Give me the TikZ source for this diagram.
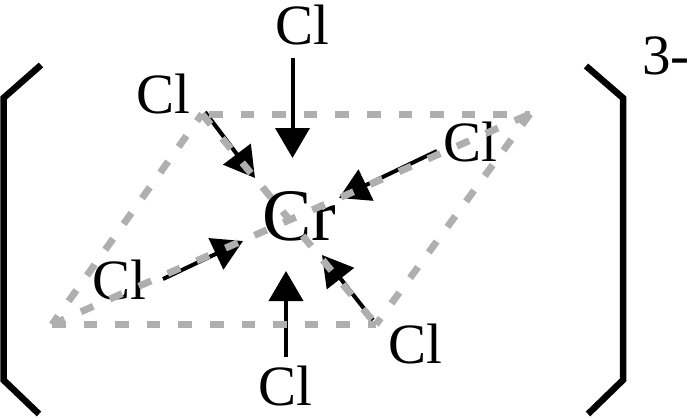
\documentclass[tikz,border=0pt]{standalone}
\usepackage{fontspec}
\setmainfont{Liberation Serif}
\usetikzlibrary{arrows.meta}
\definecolor{dashgray}{RGB}{175,175,175}
\tikzset{
  atom/.style={inner sep=0pt, font=\fontsize{74}{74}\selectfont},
  ligand/.style={inner sep=0pt, font=\fontsize{57}{57}\selectfont},
  bond/.style={black, line width=4pt, -{Triangle[length=30pt,width=34pt]}},
  plane/.style={dashgray, line width=7pt, dash pattern=on 13.5pt off 18.1pt},
  bracket/.style={black, line width=6.5pt}
}
\begin{document}
\begin{tikzpicture}[x=1pt,y=-1pt]
  \useasboundingbox (0,0) rectangle (693,418);
  % atoms
  \node [atom] (cr) at (299.5,216) {Cr};
  \node [ligand] (cltop) at (302.5,25) {Cl};
  \node [ligand] (clul) at (163.5,94) {Cl};
  \node [ligand] (clur) at (470,142) {Cl};
  \node [ligand] (clll) at (119.5,280) {Cl};
  \node [ligand] (cllr) at (415,344) {Cl};
  \node [ligand] (clbot) at (285.5,386) {Cl};
  % bond ends
  \coordinate (btop) at (292.5,58);
  \coordinate (ttop) at (292.5,158);
  \coordinate (bul) at (205,112);
  \coordinate (tul) at (255,178);
  \coordinate (bur) at (437,151);
  \coordinate (tur) at (339,198);
  \coordinate (bll) at (163,279);
  \coordinate (tll) at (243,241);
  \coordinate (blr) at (373,320);
  \coordinate (tlr) at (322,255);
  \coordinate (bbot) at (286,357);
  \coordinate (tbot) at (286,271);
  % bonds
  \draw [bond] (btop) -- (ttop);
  \draw [bond] (bul) -- (tul);
  \draw [bond] (bur) -- (tur);
  \draw [bond] (bll) -- (tll);
  \draw [bond] (blr) -- (tlr);
  \draw [bond] (bbot) -- (tbot);
  % plane
  \coordinate (pa) at (202,114);
  \coordinate (pb) at (530,114);
  \coordinate (pc) at (376,324.5);
  \coordinate (pd) at (52,324.5);
  \draw [plane, dash phase=24.6pt] (pa) -- (pb);
  \draw [plane] (pb) -- (pc);
  \draw [plane] (pd) -- (pc);
  \draw [plane, dash phase=3pt] (pd) -- (pa);
  \draw [plane] (pa) -- (pc);
  \draw [plane] (pd) -- (pb);
  % brackets
  \draw [bracket] (41,65) -- (3.5,98) -- (3.5,380) -- (39,414);
  \draw [bracket] (586,66) -- (623,98) -- (623,380) -- (588,414);
  \node [ligand, anchor=base west] (charge) at (642,74.5) {3-};
\end{tikzpicture}
\end{document}
